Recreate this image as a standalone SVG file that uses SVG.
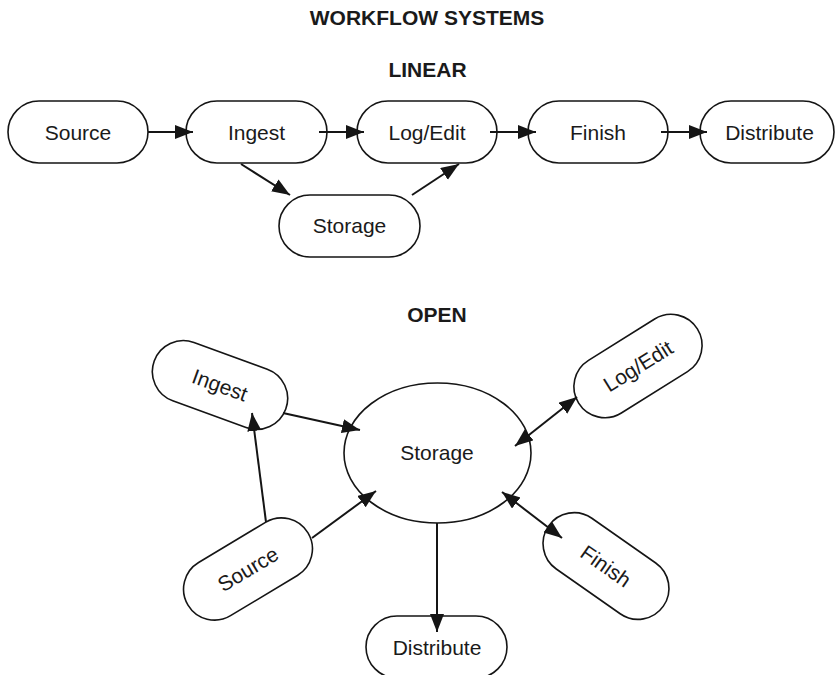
<svg xmlns="http://www.w3.org/2000/svg" width="836" height="675" viewBox="0 0 836 675">
  <style>
    .node { fill: #fff; stroke: #151515; stroke-width: 1.6; }
    .lbl { font-family: "Liberation Sans", Arial, Helvetica, sans-serif; font-size: 21px; fill: #1a1a1a; text-anchor: middle; }
    .head { font-family: "Liberation Sans", Arial, Helvetica, sans-serif; font-size: 21px; font-weight: bold; fill: #1a1a1a; text-anchor: middle; }
    .edge { fill: none; stroke: #151515; stroke-width: 2; }
  </style>
  <defs>
    <marker id="arrow" markerUnits="userSpaceOnUse" markerWidth="19" markerHeight="15" refX="18" refY="7" orient="auto-start-reverse" viewBox="0 0 19 15">
      <path d="M0,0 L18,7 L0,14 Z" fill="#151515"/>
    </marker>
  </defs>

  <rect width="836" height="675" fill="#fff"/>

  <!-- headings -->
  <text class="head" x="427" y="25">WORKFLOW SYSTEMS</text>
  <text class="head" x="427.5" y="77">LINEAR</text>
  <text class="head" x="437" y="322">OPEN</text>

  <!-- linear workflow nodes -->
  <g id="lin-source">
    <rect class="node" x="8" y="101" width="140" height="62" rx="31"/>
    <text class="lbl" x="78" y="139.5">Source</text>
  </g>
  <g id="lin-ingest">
    <rect class="node" x="186" y="101" width="141" height="62" rx="31"/>
    <text class="lbl" x="256.5" y="139.5">Ingest</text>
  </g>
  <g id="lin-logedit">
    <rect class="node" x="357" y="101" width="140" height="62" rx="31"/>
    <text class="lbl" x="427" y="139.5">Log/Edit</text>
  </g>
  <g id="lin-finish">
    <rect class="node" x="528" y="101" width="140" height="62" rx="31"/>
    <text class="lbl" x="598" y="139.5">Finish</text>
  </g>
  <g id="lin-distribute">
    <rect class="node" x="700" y="101" width="134" height="62" rx="31"/>
    <text class="lbl" x="769.5" y="139.5">Distribute</text>
  </g>
  <g id="lin-storage">
    <rect class="node" x="279" y="195" width="141" height="62" rx="31"/>
    <text class="lbl" x="349.5" y="233">Storage</text>
  </g>

  <!-- open workflow nodes -->
  <g id="open-storage">
    <ellipse class="node" cx="437.5" cy="453" rx="93.5" ry="70"/>
    <text class="lbl" x="437" y="460">Storage</text>
  </g>
  <g id="open-ingest" transform="translate(220,385) rotate(20)">
    <rect class="node" x="-70" y="-31" width="140" height="62" rx="31"/>
    <text class="lbl" x="0" y="7.5">Ingest</text>
  </g>
  <g id="open-logedit" transform="translate(638,366) rotate(-32)">
    <rect class="node" x="-70" y="-31" width="140" height="62" rx="31"/>
    <text class="lbl" x="0" y="7.5">Log/Edit</text>
  </g>
  <g id="open-finish" transform="translate(606,566) rotate(35)">
    <rect class="node" x="-70" y="-31" width="140" height="62" rx="31"/>
    <text class="lbl" x="0" y="7.5">Finish</text>
  </g>
  <g id="open-source" transform="translate(248,569) rotate(-31)">
    <rect class="node" x="-70" y="-31" width="140" height="62" rx="31"/>
    <text class="lbl" x="0" y="7.5">Source</text>
  </g>
  <g id="open-distribute">
    <rect class="node" x="366" y="616" width="141" height="62" rx="31"/>
    <text class="lbl" x="437" y="654.5">Distribute</text>
  </g>

  <!-- connectors -->
  <g id="connectors">
    <!-- linear -->
    <line class="edge" x1="148" y1="132" x2="193" y2="132" marker-end="url(#arrow)"/>
    <line class="edge" x1="319" y1="132" x2="364" y2="132" marker-end="url(#arrow)"/>
    <line class="edge" x1="490" y1="132" x2="536" y2="132" marker-end="url(#arrow)"/>
    <line class="edge" x1="661" y1="132" x2="707" y2="132" marker-end="url(#arrow)"/>
    <line class="edge" x1="241" y1="164" x2="290" y2="195" marker-end="url(#arrow)"/>
    <line class="edge" x1="412" y1="195" x2="459" y2="164" marker-end="url(#arrow)"/>
    <!-- open -->
    <line class="edge" x1="283" y1="413" x2="360" y2="430" marker-end="url(#arrow)"/>
    <line class="edge" x1="266" y1="522" x2="252" y2="413" marker-end="url(#arrow)"/>
    <line class="edge" x1="312" y1="538" x2="376" y2="491" marker-end="url(#arrow)"/>
    <line class="edge" x1="437" y1="523" x2="437" y2="632" marker-end="url(#arrow)"/>
    <line class="edge" x1="515" y1="446" x2="577" y2="397" marker-start="url(#arrow)" marker-end="url(#arrow)"/>
    <line class="edge" x1="502" y1="492" x2="562" y2="538" marker-start="url(#arrow)" marker-end="url(#arrow)"/>
  </g>
</svg>
